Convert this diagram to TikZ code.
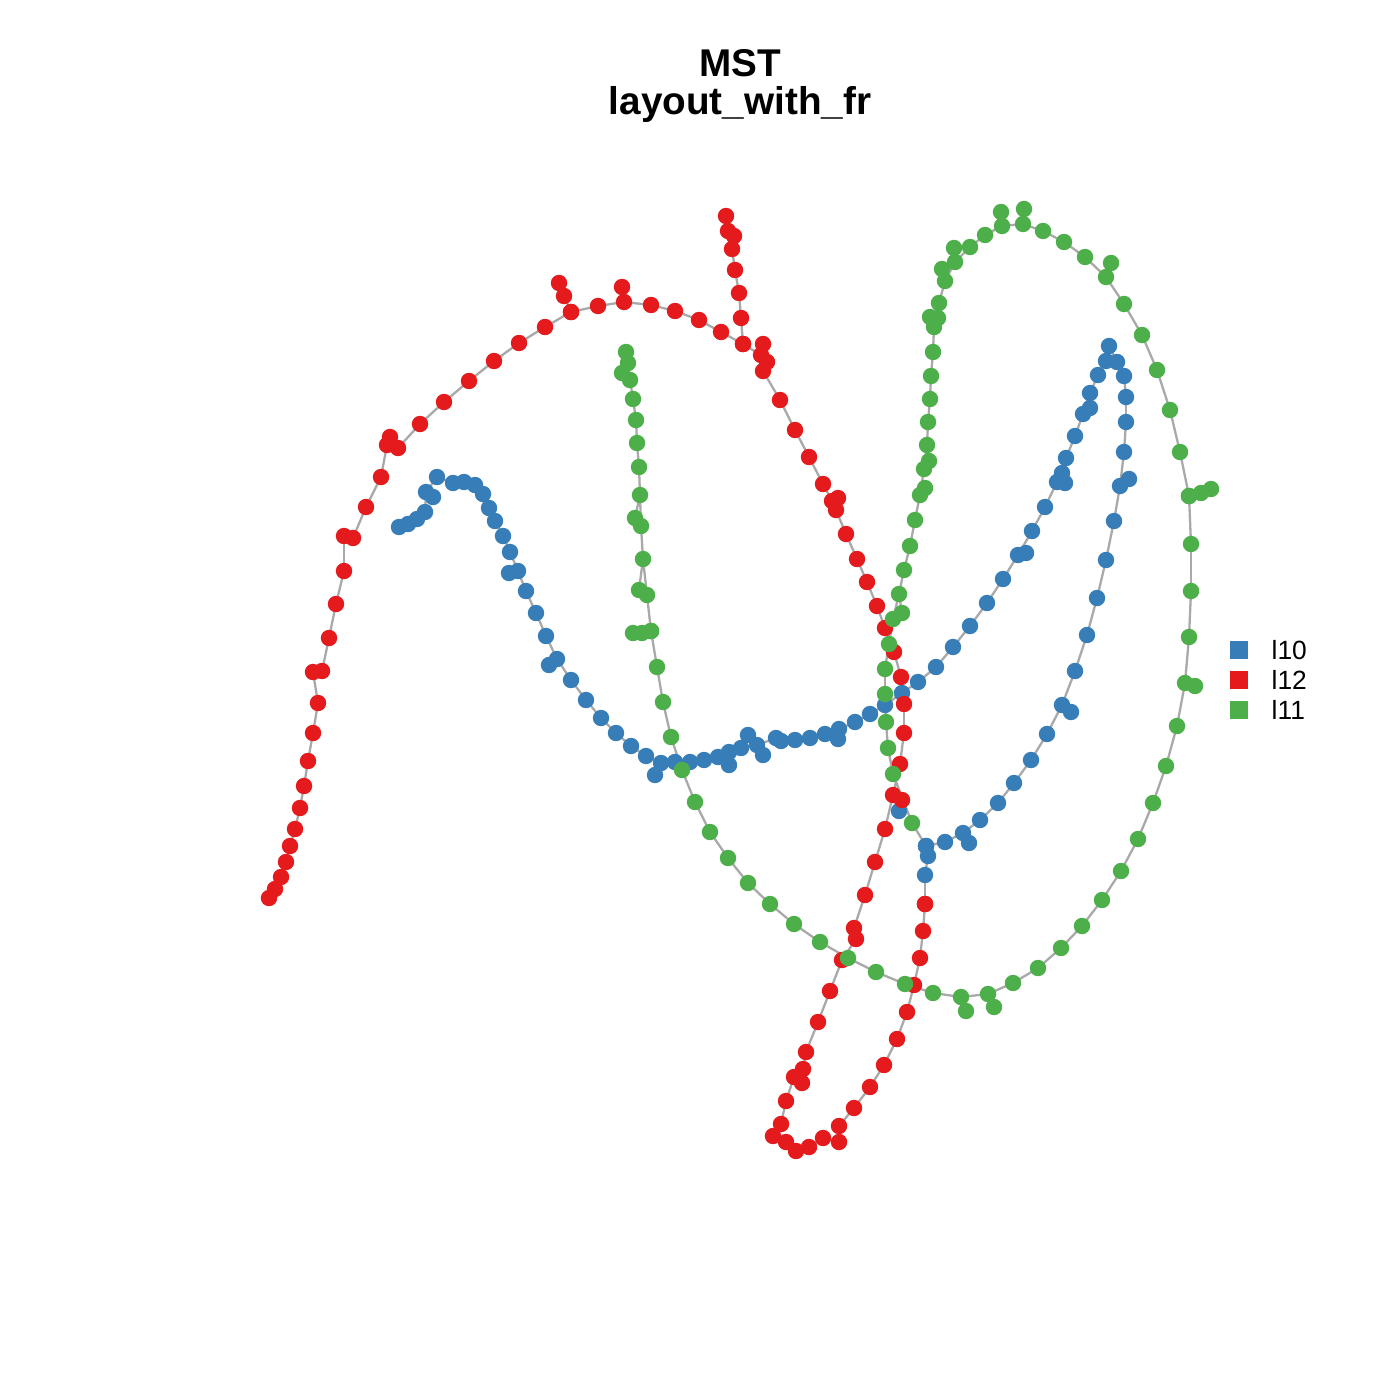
\documentclass[tikz,border=0pt]{standalone}
\usepackage{fontspec}
\setmainfont{Liberation Sans}
\definecolor{cB}{HTML}{377EB8}
\definecolor{cR}{HTML}{E41A1C}
\definecolor{cG}{HTML}{4DAF4A}
\definecolor{cE}{HTML}{A9A9A9}
\tikzset{
  edge/.style={draw=cE, line width=0.65pt},
  lgbox/.style={rectangle, inner sep=0pt, minimum size=0.18cm},
  lgtext/.style={anchor=west, inner sep=0pt, font=\fontsize{7.5}{9}\selectfont},
  titletext/.style={anchor=base, inner sep=0pt, font=\fontsize{11}{13}\selectfont\bfseries}
}
\newcommand\mkchain[2]{%
  \foreach \x/\y [count=\i, remember=\i as \j (initially 0)] in #2 {%
    \coordinate (#1\i) at (\x,\y);
    \ifnum\j>0 \draw[edge] (#1\j) -- (#1\i);\fi
  }}
\newcommand\dotchain[3]{%
  \foreach \x/\y [count=\i] in #2 { \fill[#3] (#1\i) circle[radius=0.082cm]; }}
\newcommand\mkleaves[2]{%
  \foreach \ax/\ay/\bx/\by [count=\k] in #2 {%
    \coordinate (#1\k a) at (\ax,\ay);
    \coordinate (#1\k b) at (\bx,\by);
    \draw[edge] (#1\k a) -- (#1\k b);
  }}
\newcommand\dotleaves[3]{%
  \foreach \ax/\ay/\bx/\by [count=\k] in #2 { \fill[#3] (#1\k b) circle[radius=0.082cm]; }}
% ---------- red ----------
\def\Rmain{269/898,275/889,281/877,286/862,290/846,295/829,300/808,304/786,308/761,313/733,318/703,313/672,322/671,329/638,336/604,344/571,344/536,353/538,366/507,381/477,387/445,398/448,420/424,444/402,469/381,494/361,519/343,545/327,571/312,598/306,624/302,651/305,675/311,699/320,721/332,743/344,761/355,767/362,763/371,780/400,795/430,809/457,823/484,832/501,836/510,846/534,857/559,867/582,877/606,885/628,894/652,901/677,904/704,904/733,900/764,893/795,885/829,875/862,865/895,854/928,856/939,842/960,830/991,818/1022,806/1052,803/1069,794/1077,786/1101,781/1124,773/1136,786/1142,796/1151,809/1147,823/1138,839/1142,839/1126,854/1108,870/1087,884/1065,897/1039,907/1012,914/985,920/958,923/931,925/904}
\def\Rsa{571/312,564/296,559/283}
\def\Rsd{743/344,741/318,739/293,735/270,732/249,734/236,728/231,726/216}
\def\Rlv{624/302/622/287,387/445/390/437,761/355/763/344,832/501/838/498,803/1069/802/1083,893/795/902/800,925/875/925/904}
% ---------- blue ----------
\def\Bmain{399/527,408/524,417/519,425/512,426/492,437/477,453/483,464/482,475/485,483/494,489/508,495/521,503/536,510/552,518/571,526/591,536/613,546/636,557/659,571/680,586/700,601/718,616/733,631/746,646/756,661/763,675/762,690/762,704/760,718/757,729/752,741/748,757/745,776/738,781/741,795/740,810/738,825/734,839/729,855/722,870/714,885/705,902/693,918/682,936/667,953/647,970/626,987/603,1003/579,1018/555,1032/531,1045/507,1057/482,1062/473,1066/458,1075/436,1083/414,1090/393,1098/375,1106/361,1109/346,1117/362,1124/376,1126/397,1126/422,1124/452,1120/486,1114/521,1106/560,1097/598,1087/635,1075/671,1062/705,1047/734,1031/760,1014/783,998/803,980/820,963/833,945/842,926/846,928/856,925/875}
\def\Blv{426/492/433/497,518/571/509/573,557/659/549/665,661/763/655/775,729/752/729/765,741/748/748/735,757/745/763/755,839/729/838/739,1018/555/1026/553,1057/482/1065/483,1083/414/1090/408,1120/486/1129/479,1062/705/1071/712,963/833/969/843,902/800/899/811,912/823/926/846}
% ---------- green ----------
\def\Gmain{626/352,628/363,630/380,633/399,636/420,637/443,639/467,640/495,641/526,643/559,647/595,651/631,657/667,663/702,671/737,682/770,695/802,710/832,728/858,748/883,770/904,794/924,820/942,848/958,876/972,905/984,933/993,961/997,988/994,1013/983,1038/968,1061/948,1082/926,1102/900,1121/871,1138/839,1153/803,1166/766,1177/726,1185/683,1189/637,1191/591,1191/544,1189/496,1180/452,1170/410,1157/370,1142/335,1124/304,1106/277,1085/257,1064/242,1043/231,1023/224,1002/226,985/235,970/247,955/262,945/281,939/303,934/327,933/352,931/376,930/399,928/422,927/445,924/469,920/495,915/520,910/546,904/570,899/594,893/619,889/644,885/669,885/694,886/722,888/748,893/774,912/823}
\def\Gsa{651/631,642/633,633/633}
\def\Gsb{1189/496,1201/493,1211/489}
\def\Glv{628/363/622/373,640/495/635/518,643/559/639/590,961/997/966/1011,988/994/994/1007,1185/683/1195/686,1106/277/1111/263,1023/224/1024/209,1002/226/1001/212,970/247/954/248,945/281/942/269,934/327/930/317,934/327/938/318,927/445/929/461,920/495/925/488,899/594/902/613}
\begin{document}
\begin{tikzpicture}[x=0.01cm,y=-0.01cm]
\useasboundingbox[fill=white] (0,0) rectangle (1400,1400);
% edges
\mkchain{R-}{\Rmain}
\mkchain{Ra-}{\Rsa}
\mkchain{Rd-}{\Rsd}
\mkleaves{Rl-}{\Rlv}
\mkchain{B-}{\Bmain}
\mkleaves{Bl-}{\Blv}
\mkchain{G-}{\Gmain}
\mkchain{Ga-}{\Gsa}
\mkchain{Gb-}{\Gsb}
\mkleaves{Gl-}{\Glv}
% vertices
\dotchain{B-}{\Bmain}{cB}
\dotleaves{Bl-}{\Blv}{cB}
\dotchain{R-}{\Rmain}{cR}
\dotchain{Ra-}{\Rsa}{cR}
\dotchain{Rd-}{\Rsd}{cR}
\dotleaves{Rl-}{\Rlv}{cR}
\dotchain{G-}{\Gmain}{cG}
\dotchain{Ga-}{\Gsa}{cG}
\dotchain{Gb-}{\Gsb}{cG}
\dotleaves{Gl-}{\Glv}{cG}
% title
\node[titletext] (t1) at (740,77) {MST};
\node[titletext] (t2) at (740,115) {layout\_with\_fr};
% legend
\node[lgbox, fill=cB] (k1) at (1239,650) {};
\node[lgbox, fill=cR] (k2) at (1239,680) {};
\node[lgbox, fill=cG] (k3) at (1239,710) {};
\node[lgtext] (k1t) at (1271,650) {l10};
\node[lgtext] (k2t) at (1271,680) {l12};
\node[lgtext] (k3t) at (1271,710) {l11};
\end{tikzpicture}
\end{document}
